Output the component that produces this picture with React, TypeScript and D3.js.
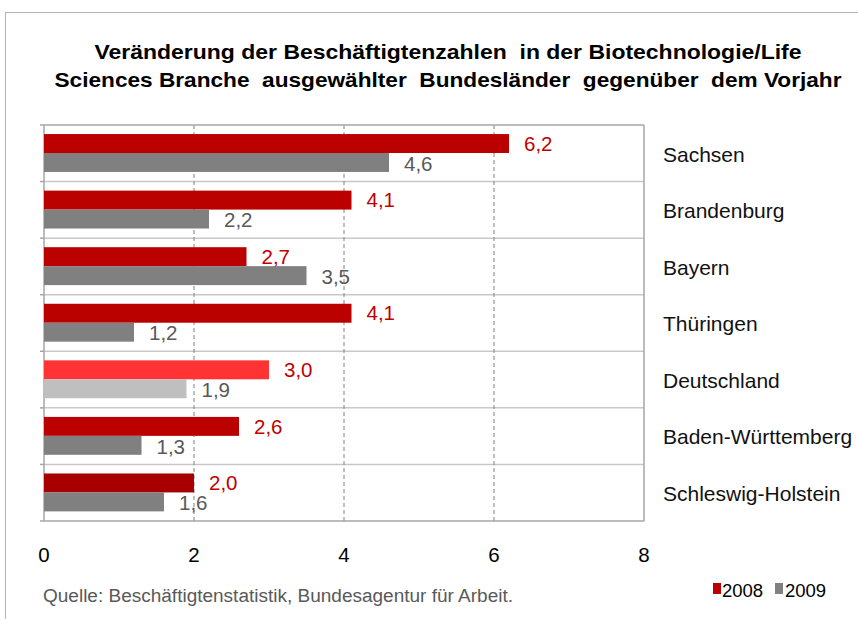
import React from "react";
import * as d3 from "d3";

const width = 858;
const height = 619;
const margin = { top: 125, right: 215, bottom: 98, left: 44 };

const categories = [
  "Sachsen",
  "Brandenburg",
  "Bayern",
  "Thüringen",
  "Deutschland",
  "Baden-Württemberg",
  "Schleswig-Holstein",
];
const values2008 = [6.2, 4.1, 2.7, 4.1, 3.0, 2.6, 2.0];
const values2009 = [4.6, 2.2, 3.5, 1.2, 1.9, 1.3, 1.6];
const xTicks = [0, 2, 4, 6, 8];

const red = "#bb0000";
const gray = "#808080";
const colors2008 = [red, red, red, red, "#ff3333", red, "#a80000"];
const colors2009 = [gray, gray, gray, gray, "#bfbfbf", gray, gray];

const font = "'Liberation Sans', Arial, sans-serif";
const fmt = (v: number) => v.toFixed(1).replace(".", ",");

export default function App() {
  const x = d3
    .scaleLinear()
    .domain([0, 8])
    .range([margin.left, width - margin.right + 1]);
  const y = d3
    .scaleBand<string>()
    .domain(categories)
    .range([margin.top, height - margin.bottom]);
  const bw = y.bandwidth();
  const barH = bw * 0.335;
  const off = bw * 0.16;
  const bottom = height - margin.bottom;
  const right = x(8);

  return (
    <svg
      width={width}
      height={height}
      style={{ position: "absolute", left: 0, top: 0, background: "#fff" }}
    >
      {/* outer frame */}
      <line x1={5} x2={width} y1={12.5} y2={12.5} stroke="#b4b4b4" />
      <line x1={5.5} x2={5.5} y1={12} y2={height} stroke="#b4b4b4" />

      <text
        x={448}
        y={59}
        textAnchor="middle"
        fontFamily={font}
        fontWeight="bold"
        fontSize={21}
        textLength={707}
        lengthAdjust="spacingAndGlyphs"
        style={{ whiteSpace: "pre" }}
      >
        Veränderung der Beschäftigtenzahlen  in der Biotechnologie/Life
      </text>
      <text
        x={448}
        y={87}
        textAnchor="middle"
        fontFamily={font}
        fontWeight="bold"
        fontSize={21}
        textLength={787}
        lengthAdjust="spacingAndGlyphs"
        style={{ whiteSpace: "pre" }}
      >
        Sciences Branche  ausgewählter  Bundesländer  gegenüber  dem Vorjahr
      </text>

      {/* horizontal separators */}
      {categories.map((c, i) =>
        i === 0 ? null : (
          <line
            key={"h" + c}
            x1={margin.left}
            x2={right}
            y1={y(c)!}
            y2={y(c)!}
            stroke="#c8c8c8"
            strokeWidth={1.5}
          />
        )
      )}
      {/* dashed grid */}
      {xTicks.slice(1, -1).map((t) => (
        <line
          key={"g" + t}
          x1={x(t)}
          x2={x(t)}
          y1={margin.top}
          y2={bottom}
          stroke="#808080"
          strokeDasharray="4,3"
        />
      ))}
      {/* plot frame */}
      <line x1={40} x2={right} y1={margin.top} y2={margin.top} stroke="#a6a6a6" strokeWidth={1.5} />
      <line x1={margin.left} x2={right} y1={bottom} y2={bottom} stroke="#a6a6a6" strokeWidth={1.5} />
      <line x1={right} x2={right} y1={margin.top} y2={bottom} stroke="#a6a6a6" strokeWidth={1.5} />
      <line x1={margin.left} x2={margin.left} y1={margin.top} y2={bottom} stroke="#a6a6a6" strokeWidth={1.5} />
      {categories.map((c) => (
        <line key={"t" + c} x1={40} x2={margin.left} y1={y(c)! + bw} y2={y(c)! + bw} stroke="#a6a6a6" strokeWidth={1.5} />
      ))}

      {/* bars */}
      {categories.map((c, i) => {
        const y0 = y(c)! + off;
        return (
          <g key={c}>
            <rect
              x={x(0)}
              y={y0}
              width={x(values2008[i]) - x(0)}
              height={barH}
              fill={colors2008[i]}
            />
            <rect
              x={x(0)}
              y={y0 + barH}
              width={x(values2009[i]) - x(0)}
              height={barH}
              fill={colors2009[i]}
            />
            <text
              x={x(values2008[i]) + 15}
              y={y0 + barH / 2}
              dy="0.35em"
              fontFamily={font}
              fontSize={20.5}
              fill="#c00000"
            >
              {fmt(values2008[i])}
            </text>
            <text
              x={x(values2009[i]) + 15}
              y={y0 + barH * 1.5 + 1}
              dy="0.35em"
              fontFamily={font}
              fontSize={20.5}
              fill="#595959"
            >
              {fmt(values2009[i])}
            </text>
            <text
              x={663}
              y={y(c)! + bw / 2 + 1}
              dy="0.35em"
              fontFamily={font}
              fontSize={21}
              fill="#111"
            >
              {c}
            </text>
          </g>
        );
      })}

      {/* x axis labels */}
      {xTicks.map((t) => (
        <text
          key={"x" + t}
          x={x(t)}
          y={555}
          dy="0.35em"
          textAnchor="middle"
          fontFamily={font}
          fontSize={20.5}
          fill="#000"
        >
          {t}
        </text>
      ))}

      <text
        x={43}
        y={602}
        fontFamily={font}
        fontSize={18}
        fill="#595959"
        textLength={470}
        lengthAdjust="spacingAndGlyphs"
      >
        Quelle: Beschäftigtenstatistik, Bundesagentur für Arbeit.
      </text>

      {/* legend */}
      <rect x={713} y={583} width={8} height={11} fill={red} />
      <text x={722} y={597} fontFamily={font} fontSize={18.5} fill="#000">
        2008
      </text>
      <rect x={775} y={583} width={8} height={11} fill={gray} />
      <text x={785} y={597} fontFamily={font} fontSize={18.5} fill="#000">
        2009
      </text>
    </svg>
  );
}
